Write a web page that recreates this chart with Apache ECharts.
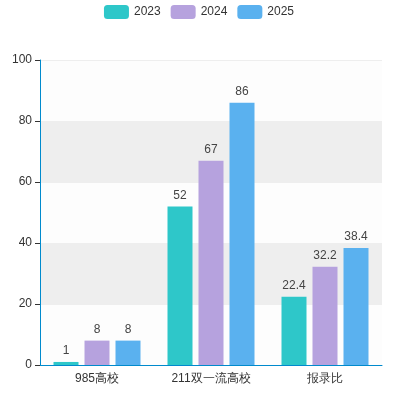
<!DOCTYPE html>
<html style="height: 100%;width:100%">
<head>
	<meta charset="UTF-8">
	<title>Chart</title>
	<style type="text/css">
		body{ height:100%;width:100%; margin:0px; }
		#container{ width:398px; height:398px; }
	</style>
	<script src="https://cdn.jsdelivr.net/npm/echarts@6/dist/echarts.min.js"></script>
</head>
<body style="background-color:#FFFFFF">
<div id="container"></div>
<script type="text/javascript">

var categories = ['985高校', '211双一流高校', '报录比'];
var seriesNames = ['2023', '2024', '2025'];
var values2023 = [1, 52, 22.4];
var values2024 = [8, 67, 32.2];
var values2025 = [8, 86, 38.4];
var colorsList = ['#2EC7C9', '#B6A2DE', '#5AB1EF'];

var dom = document.getElementById("container");
var myChart = echarts.init(dom);

var makeSeries = function(name, data) {
	return {
		name: name,
		type: 'bar',
		data: data,
		barWidth: 25,
		barGap: '24%',
		label: {
			show: true,
			position: 'top',
			color: '#444',
			fontSize: 12
		}
	};
};

var option = {
	textStyle: { fontFamily: 'sans-serif' },
	color: colorsList,
	animation: false,
	legend: {
		top: 0,
		itemWidth: 25,
		itemHeight: 14,
		itemGap: 10,
		textStyle: { color: '#333', fontSize: 12 },
		data: seriesNames
	},
	grid: { left: 40, right: 16, top: 60, bottom: 33 },
	xAxis: {
		type: 'category',
		data: categories,
		axisLine: { lineStyle: { color: '#008acd' } },
		axisTick: { lineStyle: { color: '#333' } },
		axisLabel: { color: '#333', fontSize: 12 }
	},
	yAxis: {
		type: 'value',
		min: 0,
		max: 100,
		interval: 20,
		axisLine: { show: true, lineStyle: { color: '#008acd' } },
		axisTick: { show: true, lineStyle: { color: '#333' } },
		axisLabel: { color: '#333', fontSize: 12 },
		splitLine: { lineStyle: { color: '#eee' } },
		splitArea: { show: true, areaStyle: { color: ['rgba(250,250,250,0.3)', 'rgba(200,200,200,0.3)'] } }
	},
	series: [
		makeSeries(seriesNames[0], values2023),
		makeSeries(seriesNames[1], values2024),
		makeSeries(seriesNames[2], values2025)
	]
};

myChart.setOption(option, true);

</script>
</body>
</html>
